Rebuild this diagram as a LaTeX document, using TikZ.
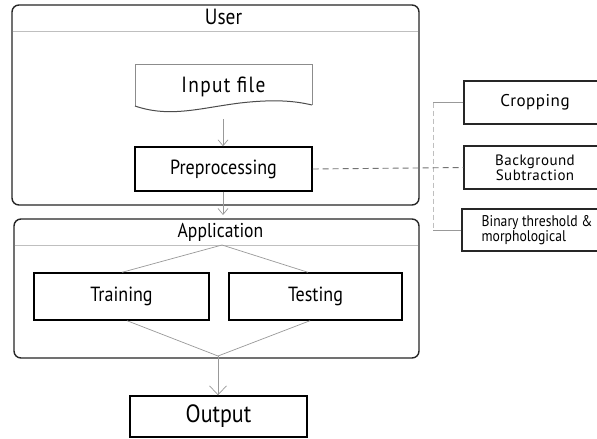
\documentclass[tikz,border=0pt]{standalone}
\usepackage{fontspec}
\setmainfont{PT Sans}[FakeStretch=0.88]
\newfontfamily\sidefont{PT Sans}
\usetikzlibrary{arrows.meta}
\tikzset{
  container/.style={draw=black!85, line width=1.4pt, rounded corners=7pt, inner sep=0pt},
  divider/.style={draw=black!25, line width=0.8pt},
  title/.style={font=\fontsize{20}{22}\selectfont, text=black, inner sep=0pt},
  procbox/.style={draw=black, line width=1.4pt, inner sep=0pt, font=\fontsize{20.5}{22}\selectfont, text=black},
  sidebox/.style={draw=black!85, line width=1.3pt, inner sep=0pt, text=black, align=center},
  flow/.style={draw=black!40, line width=0.7pt},
  arr/.style={flow, -{Straight Barb[length=6pt,width=10pt]}},
  bigarr/.style={flow, -{Straight Barb[length=9pt,width=17pt]}},
}
\begin{document}
\begin{tikzpicture}[x=1pt,y=-1pt]
\useasboundingbox (0,0) rectangle (597,439);
\clip (0,0) rectangle (597,439);
\fill[white] (0,0) rectangle (597,439);
% containers
\node[container, minimum width=407pt, minimum height=200pt] (user) at (215.5,105) {};
\draw[divider] (12.7,31) -- (418.3,31);
\node[title, font=\fontsize{22}{24}\selectfont] (usert) at (223.5,17) {User};
\node[container, minimum width=405pt, minimum height=139pt] (app) at (216.5,288.5) {};
\draw[divider] (14.7,245) -- (418.3,245);
\node[title] (appt) at (220.5,232) {Application};
% input file
\node[inner sep=0pt, minimum width=177pt, minimum height=48pt, font=\fontsize{22}{24}\selectfont\addfontfeature{LetterSpace=6}, text=black] (input) at (223.5,87) {Input file};
\draw[draw=black!45, line width=0.7pt] (312,105) -- (312,64) -- (135,64) -- (135,106);
\draw[draw=black!70, line width=1pt] (135,106) .. controls (170,118) and (200,108) .. (240,103) .. controls (275,99) and (295,101) .. (312,105);
% preprocessing
\node[procbox, minimum width=177pt, minimum height=44pt] (pre) at (223.5,169) {Preprocessing};
\draw[arr] (223,119) -- (pre.north -| 223,0);
\draw[arr] (pre.south -| 223,0) -- (223,215);
% training / testing
\node[procbox, minimum width=175pt, minimum height=47pt] (train) at (121.5,296.5) {Training};
\node[procbox, minimum width=173pt, minimum height=47pt] (test) at (315.5,296.5) {Testing};
\coordinate (split) at (222,245);
\coordinate (join) at (218,356);
\draw[flow] (train.north -| 122,0) -- (split) -- (test.north -| 308,0);
\draw[flow] (train.south -| 127,0) -- (join) -- (test.south -| 310,0);
% output
\node[procbox, minimum width=177pt, minimum height=41pt, font=\fontsize{25}{27}\selectfont] (out) at (218.5,416.5) {Output};
\draw[bigarr] (join) -- (out.north -| join);
% side boxes
\node[sidebox, minimum width=142pt, minimum height=43pt, font=\sidefont\fontsize{17}{19}\selectfont\addfontfeature{LetterSpace=3}] (crop) at (535,102.5) {Cropping};
\node[sidebox, minimum width=142pt, minimum height=43pt, font=\sidefont\fontsize{15}{13.5}\selectfont\addfontfeature{LetterSpace=3}] (bg) at (535,167.5) {Background\\Subtraction};
\node[sidebox, minimum width=146pt, minimum height=42pt] (bin) at (535,230) {};
\node[sidebox, draw=none, anchor=west, align=left, font=\fontsize{15.5}{13.5}\selectfont] (bint) at (481,230) {Binary threshold \&\\morphological};
\coordinate (bus) at (433,0);
\draw[flow] (crop.west) -- (crop.west -| bus) coordinate (b1);
\draw[flow] (bin.west) -- (bin.west -| bus) coordinate (b2);
\draw[flow, draw=black!25, dashed, dash pattern=on 5pt off 3pt] (b1) -- (b2);
\draw[draw=black!55, line width=0.9pt, dash pattern=on 6pt off 4pt] (pre.east) -- (bg.west);
\end{tikzpicture}
\end{document}
